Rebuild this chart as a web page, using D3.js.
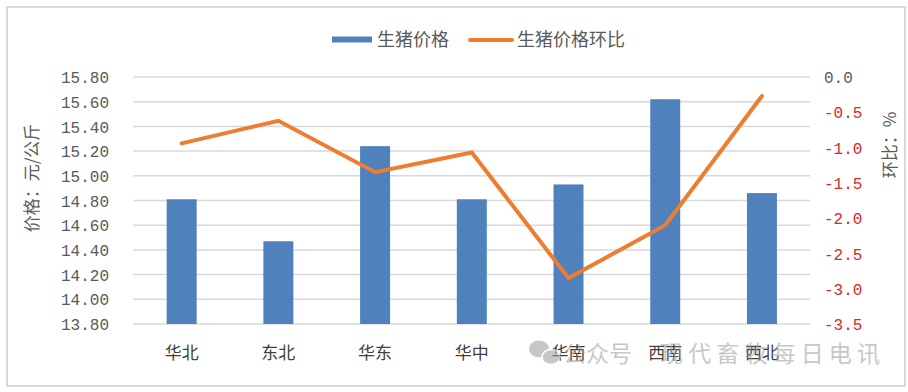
<!DOCTYPE html>
<html><head><meta charset="utf-8">
<script src="https://cdn.jsdelivr.net/npm/d3@7"></script>
<style>
html,body{margin:0;padding:0;background:#fff;}
svg{display:block;}
</style></head>
<body>
<svg id="chart" width="908" height="392"></svg>
<script>
const categories = ["华北","东北","华东","华中","华南","西南","西北"];
const priceValues = [14.81, 14.47, 15.24, 14.81, 14.93, 15.62, 14.86];
const changeValues = [-0.94, -0.62, -1.35, -1.07, -2.85, -2.10, -0.27];
const leftTicks = [13.8,14.0,14.2,14.4,14.6,14.8,15.0,15.2,15.4,15.6,15.8];
const rightTicks = [0.0,-0.5,-1.0,-1.5,-2.0,-2.5,-3.0,-3.5];
const seriesNames = ["生猪价格","生猪价格环比"];
const leftTitle = "价格：元/公斤";
const rightTitle = "环比：%";
const watermark1 = "公众号";
const watermark2 = "现代畜牧每日电讯";

const svg = d3.select("#chart");
const cjk = "'Noto Sans CJK SC','Noto Sans',sans-serif";
const num = "'Liberation Mono','DejaVu Sans Mono',monospace";
const textCol = "#595959";
const blue = "#4F81BD", orange = "#ED7D31", red = "#D42A2A";

const L = 133.3, R = 810.3, T = 77, B = 324;

// frame
svg.append("rect").attr("x",7).attr("y",7).attr("width",898).attr("height",379)
  .attr("fill","#fff").attr("stroke","#d9d9d9").attr("stroke-width",2);

const x = d3.scaleBand().domain(categories).range([L,R]).paddingInner(0.69).paddingOuter(0.345);
const yL = d3.scaleLinear().domain([13.8,15.8]).range([B,T]);
const yR = d3.scaleLinear().domain([-3.5,0]).range([B,T]);

// gridlines
svg.append("g").selectAll("line").data(leftTicks).join("line")
  .attr("x1",L).attr("x2",R)
  .attr("y1",d=>yL(d)).attr("y2",d=>yL(d))
  .attr("stroke","#d9d9d9").attr("stroke-width",1.5);

// left axis labels
const axL = d3.axisLeft(yL).tickValues(leftTicks).tickFormat(d3.format(".2f")).tickSize(0).tickPadding(0);
const gL = svg.append("g").attr("transform",`translate(109,0)`).call(axL);
gL.select(".domain").remove();
gL.selectAll("text").attr("font-family",num).attr("font-size",16).attr("fill",textCol).attr("dy","0.35em");

// right axis labels
const axR = d3.axisRight(yR).tickValues(rightTicks).tickFormat(d=>d3.format(".1f")(d).replace("−","-")).tickSize(0).tickPadding(0);
const gR = svg.append("g").attr("transform",`translate(824,0)`).call(axR);
gR.select(".domain").remove();
gR.selectAll("text").attr("font-family",num).attr("font-size",16)
  .attr("fill",d=>d<0?red:textCol).attr("dy","0.35em");

// bars
svg.append("g").selectAll("rect").data(categories).join("rect")
  .attr("x",d=>x(d)).attr("width",x.bandwidth())
  .attr("y",(d,i)=>yL(priceValues[i]))
  .attr("height",(d,i)=>yL(13.8)-yL(priceValues[i]))
  .attr("fill",blue);

// line
const line = d3.line().x((d,i)=>x(categories[i])+x.bandwidth()/2).y(d=>yR(d));
svg.append("path").datum(changeValues).attr("d",line)
  .attr("fill","none").attr("stroke",orange).attr("stroke-width",4)
  .attr("stroke-linejoin","miter").attr("stroke-linecap","round");

// x category labels
svg.append("g").selectAll("text").data(categories).join("text")
  .attr("x",d=>x(d)+x.bandwidth()/2).attr("y",359)
  .attr("text-anchor","middle").attr("font-family",cjk).attr("font-size",17)
  .attr("fill","#404040").text(d=>d);

// axis titles
svg.append("text").attr("transform","translate(38,178) rotate(-90)")
  .attr("text-anchor","middle").attr("font-family",cjk).attr("font-size",17)
  .attr("fill",textCol).text(leftTitle);
svg.append("text").attr("transform","translate(896,145) rotate(-90)")
  .attr("text-anchor","middle").attr("font-family",cjk).attr("font-size",17)
  .attr("fill",textCol).text(rightTitle);

// legend
const lg = svg.append("g");
lg.append("rect").attr("x",332).attr("y",36.5).attr("width",40).attr("height",6).attr("fill",blue);
lg.append("text").attr("x",377).attr("y",46).attr("font-family",cjk).attr("font-size",18)
  .attr("fill",textCol).text(seriesNames[0]);
lg.append("line").attr("x1",470).attr("x2",512).attr("y1",40).attr("y2",40)
  .attr("stroke",orange).attr("stroke-width",4).attr("stroke-linecap","round");
lg.append("text").attr("x",517).attr("y",46).attr("font-family",cjk).attr("font-size",18)
  .attr("fill",textCol).text(seriesNames[1]);

// watermark
const wm = svg.append("g").attr("opacity",0.55);
wm.append("ellipse").attr("cx",539).attr("cy",349).attr("rx",10).attr("ry",8.5).attr("fill","#9a9a9a");
wm.append("ellipse").attr("cx",551).attr("cy",357).attr("rx",9).attr("ry",7.5).attr("fill","#9a9a9a").attr("stroke","#fff").attr("stroke-width",1.5);
wm.append("text").attr("x",563).attr("y",362).attr("font-family",cjk).attr("font-size",23)
  .attr("fill","#9a9a9a").text(watermark1);
wm.append("text").attr("x",660).attr("y",362).attr("font-family",cjk).attr("font-size",23)
  .attr("fill","#9a9a9a").attr("textLength",220).text(watermark2);
</script>
</body></html>
